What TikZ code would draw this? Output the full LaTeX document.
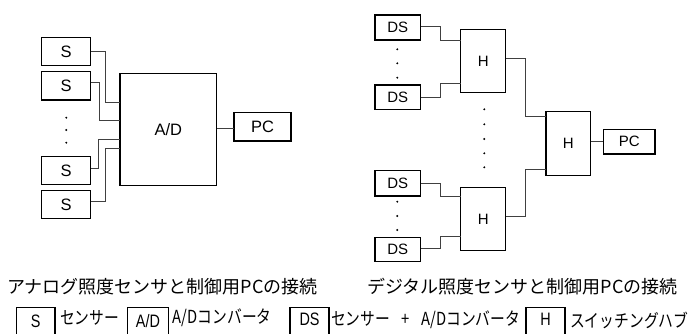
\documentclass[tikz,border=0pt]{standalone}
\usepackage{graphicx}
\usepackage{fontspec}
\setmainfont{Liberation Sans}
\newfontfamily\jp{Noto Sans CJK JP}
\newcommand{\condtxt}[1]{\scalebox{0.82}[1]{#1}}
\newcommand{\condlbl}[1]{\scalebox{0.8}[1]{#1}}
\tikzset{
  box/.style={draw=black, line width=1.2pt, fill=white, inner sep=0pt, outer sep=0pt},
  conn/.style={draw=black!75, line width=0.9pt},
  lbig/.style={font=\fontsize{16.5}{18}\selectfont},
  lmid/.style={font=\fontsize{15}{17}\selectfont},
  lsmall/.style={font=\fontsize{18}{20}\selectfont},
  jcap/.style={font=\jp\fontsize{18}{20}\selectfont, inner sep=0pt},
  jleg/.style={font=\jp\fontsize{18}{20}\selectfont, inner sep=0pt, anchor=west},
}
\begin{document}
\begin{tikzpicture}[x=1pt, y=-1pt]
\useasboundingbox (0,0) rectangle (693,334);
% ---------- left diagram ----------
\node[box, lbig, minimum width=49pt, minimum height=27.6pt] (s1) at (66.2,51.5) {S};
\node[box, lbig, minimum width=49pt, minimum height=28.3pt] (s2) at (66.2,85.8) {S};
\node[box, lbig, minimum width=49pt, minimum height=27.6pt] (s3) at (66.2,170.5) {S};
\node[box, lbig, minimum width=49pt, minimum height=27.6pt] (s4) at (66.2,204.5) {S};
\node[box, lbig, minimum width=96.7pt, minimum height=112.4pt] (ad) at (168.3,129.5) {A/D};
\node[box, lbig, minimum width=57pt, minimum height=28.3pt] (pc1) at (262.5,126.8) {PC};
\foreach \yy in {117.7,130,142.7} \fill (66.3,\yy) circle (1.1pt);
\draw[conn] (s1.east |- 0,51.7) -| (105.7,102.7) -- (ad.west |- 0,102.7);
\draw[conn] (s2.east |- 0,82.3) -| (99.3,120.3) -- (ad.west |- 0,120.3);
\draw[conn] (s3.east |- 0,168) -| (98.3,139) -- (ad.west |- 0,139);
\draw[conn] (s4.east |- 0,201) -| (105.7,148.3) -- (ad.west |- 0,148.3);
\draw[conn] (ad.east |- 0,128) -- (pc1.west |- 0,128);
% ---------- right diagram ----------
\node[box, lmid, minimum width=45.7pt, minimum height=25pt] (d1) at (397.8,27.5) {DS};
\node[box, lmid, minimum width=45.7pt, minimum height=24.3pt] (d2) at (397.8,97.2) {DS};
\node[box, lmid, minimum width=45.7pt, minimum height=25.3pt] (d3) at (397.8,183.3) {DS};
\node[box, lmid, minimum width=45.7pt, minimum height=24.4pt] (d4) at (397.8,249.5) {DS};
\node[box, lmid, minimum width=45pt, minimum height=63.4pt] (h1) at (483.2,61) {H};
\node[box, lmid, minimum width=45pt, minimum height=63pt] (h2) at (483.2,219.2) {H};
\node[box, lmid, minimum width=44.7pt, minimum height=64pt] (h3) at (568.3,143.7) {H};
\node[box, lmid, minimum width=51.7pt, minimum height=24.7pt] (pc2) at (629.2,141.7) {PC};
\foreach \yy in {49.3,63.3,77.7,201.7,216,230} \fill (397.3,\yy) circle (1.1pt);
\foreach \yy in {109.3,124.3,139,153.3,167.3} \fill (484.3,\yy) circle (1.1pt);
\draw[conn] (d1.east |- 0,26) -| (440.7,40.7) -- (h1.west |- 0,40.7);
\draw[conn] (d2.east |- 0,97.3) -| (440.7,83.3) -- (h1.west |- 0,83.3);
\draw[conn] (d3.east |- 0,183.3) -| (440.7,196.7) -- (h2.west |- 0,196.7);
\draw[conn] (d4.east |- 0,248.3) -| (440.7,236.7) -- (h2.west |- 0,236.7);
\draw[conn] (h1.east |- 0,58.3) -| (525.7,116) -- (h3.west |- 0,116);
\draw[conn] (h2.east |- 0,216.7) -| (525.7,169.3) -- (h3.west |- 0,169.3);
\draw[conn] (h3.east |- 0,141.7) -- (pc2.west |- 0,141.7);
% ---------- captions ----------
\node[jcap] (capl) at (162.5,286.5) {アナログ照度センサと制御用PCの接続};
\node[jcap] (capr) at (522.5,286.5) {デジタル照度センサと制御用PCの接続};
% ---------- legend ----------
\node[box, lsmall, minimum width=38.3pt, minimum height=28pt] (ls) at (35.8,321.3) {\raisebox{-1.8pt}{\condlbl{S}}};
\node[jleg] (lst) at (60,317.7) {\condtxt{センサー}};
\node[box, lsmall, minimum width=40.6pt, minimum height=28pt] (lad) at (148,321.3) {\raisebox{-1.8pt}{\condlbl{A/D}}};
\node[jleg] (ladt) at (172.7,317.7) {\condtxt{A/Dコンバータ}};
\node[box, lsmall, minimum width=39pt, minimum height=28pt] (lds) at (309.5,321.3) {\raisebox{4pt}{\condlbl{DS}}};
\node[jleg] (ldst) at (331,320) {\condtxt{センサー\hspace{14pt}+\hspace{14pt}A/Dコンバータ}};
\node[box, lsmall, minimum width=39pt, minimum height=28pt] (lh) at (545.5,321.3) {\raisebox{4pt}{\condlbl{H}}};
\node[jleg] (lht) at (570,320) {\condtxt{スイッチングハブ}};
\end{tikzpicture}
\end{document}
